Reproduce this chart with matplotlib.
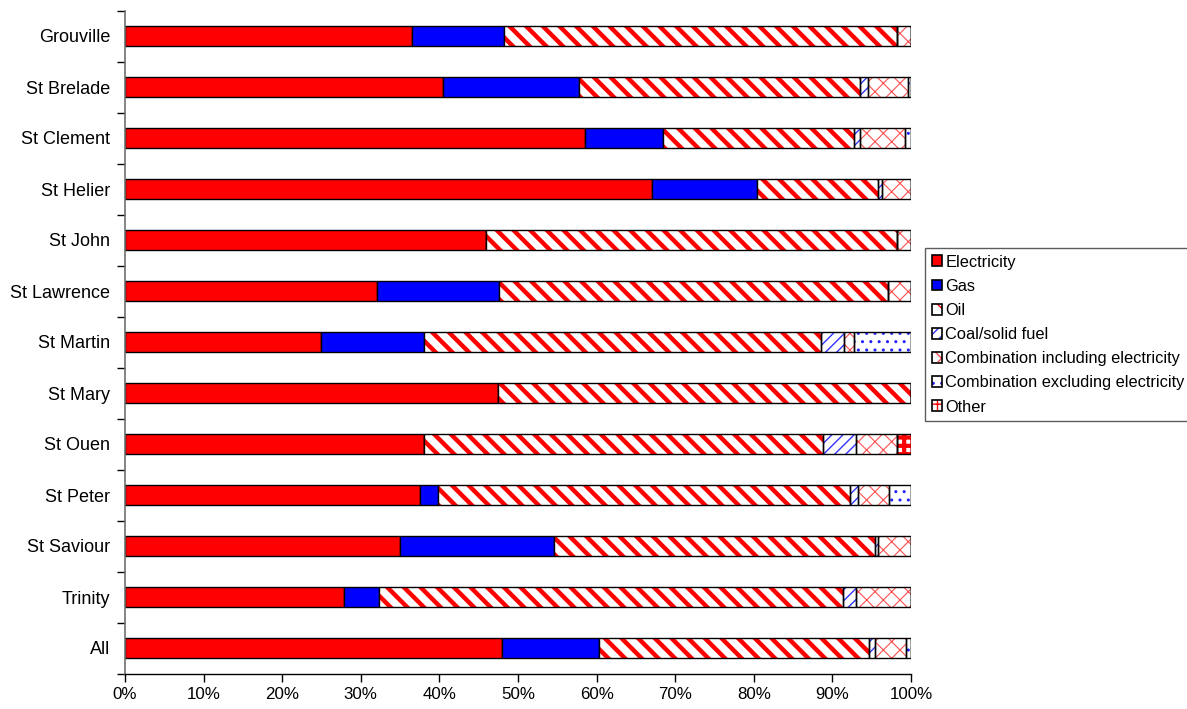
import matplotlib
matplotlib.use("Agg")
import matplotlib.pyplot as plt
from matplotlib.patches import Patch
from matplotlib.ticker import FixedLocator, PercentFormatter
import numpy as np

plt.rcParams['font.family'] = ['Liberation Sans', 'DejaVu Sans']

parishes = ["Grouville", "St Brelade", "St Clement", "St Helier", "St John",
            "St Lawrence", "St Martin", "St Mary", "St Ouen", "St Peter",
            "St Saviour", "Trinity", "All"]

# Share of households by main heating fuel (%)
electricity = [36.5, 40.4, 58.5, 67.0, 45.9, 32.0, 24.9, 47.5, 38.0, 37.5, 35.0, 27.9, 48.0]
gas         = [11.7, 17.3,  9.9, 13.4,  0.0, 15.6, 13.2,  0.0,  0.0,  2.3, 19.6,  4.4, 12.3]
oil         = [50.0, 35.8, 24.3, 15.4, 52.3, 49.5, 50.4, 52.5, 50.8, 52.4, 40.8, 59.1, 34.4]
coal        = [ 0.0,  1.0,  0.8,  0.5,  0.0,  0.0,  3.0,  0.0,  4.2,  1.0,  0.4,  1.6,  0.7]
comb_incl   = [ 1.8,  5.1,  5.7,  3.7,  1.8,  2.9,  1.2,  0.0,  5.2,  4.0,  4.2,  7.0,  4.0]
comb_excl   = [ 0.0,  0.4,  0.8,  0.0,  0.0,  0.0,  7.3,  0.0,  0.0,  2.8,  0.0,  0.0,  0.6]
other       = [ 0.0,  0.0,  0.0,  0.0,  0.0,  0.0,  0.0,  0.0,  1.8,  0.0,  0.0,  0.0,  0.0]

series_labels = ["Electricity", "Gas", "Oil", "Coal/solid fuel",
                 "Combination including electricity",
                 "Combination excluding electricity", "Other"]
series_values = [electricity, gas, oil, coal, comb_incl, comb_excl, other]

# fill style per series: (face, hatch, hatch colour, hatch linewidth)
styles = [
    ("#FF0000", None, None, 0),
    ("#0000FF", None, None, 0),
    ("white", "\\\\", "#FF0000", 3.2),
    ("white", "///", "#3333FF", 1.0),
    ("white", "xx", "#FF5050", 0.8),
    ("white", "..", "#2222FF", 1.0),
    ("white", "++", "#FF0000", 3.0),
]

fig = plt.figure(figsize=(11.87, 7.09), dpi=100)
ax = fig.add_axes([125 / 1187, 1 - 673.5 / 709, (911 - 125) / 1187, 663 / 709])

y = np.arange(len(parishes))
bar_h = 0.41
left = np.zeros(len(parishes))
handles = []
for vals, label, (face, hatch, hcol, hlw) in zip(series_values, series_labels, styles):
    vals = np.asarray(vals, dtype=float)
    if hatch is None:
        ax.barh(y, vals, left=left, height=bar_h, color=face,
                edgecolor="black", linewidth=1.0, zorder=2)
        handles.append(Patch(facecolor=face, edgecolor="black", linewidth=1.2))
    else:
        with plt.rc_context({'hatch.linewidth': hlw}):
            bars = ax.barh(y, vals, left=left, height=bar_h, color=face,
                           edgecolor=hcol, hatch=hatch, linewidth=0, zorder=2)
            fill = Patch(facecolor=face, edgecolor=hcol, hatch=hatch, linewidth=0)
        for p in list(bars) + [fill]:
            if hasattr(p, "set_hatch_linewidth"):
                p.set_hatch_linewidth(hlw)
        ax.barh(y, vals, left=left, height=bar_h, facecolor="none",
                edgecolor="black", linewidth=1.0, zorder=3)
        outline = Patch(facecolor="none", edgecolor="black", linewidth=1.2)
        handles.append((fill, outline))
    left += vals

ax.set_xlim(0, 100)
ax.set_ylim(len(parishes) - 0.5, -0.5)

ax.xaxis.set_major_locator(FixedLocator(np.arange(0, 101, 10)))
ax.xaxis.set_major_formatter(PercentFormatter(decimals=0))
ax.tick_params(axis="x", direction="out", length=6, width=1, color="black",
               labelsize=12.2, pad=4)

ax.set_yticks(y)
ax.set_yticklabels(parishes)
ax.yaxis.set_minor_locator(FixedLocator(np.arange(-0.5, len(parishes), 1.0)))
ax.tick_params(axis="y", which="major", length=0, labelsize=13, pad=10.5)
ax.tick_params(axis="y", which="minor", direction="out", length=6, width=1,
               color="black")

for s in ("top", "right"):
    ax.spines[s].set_visible(False)
ax.spines["left"].set_color("#707070")
ax.spines["left"].set_linewidth(1.2)
ax.spines["bottom"].set_color("black")
ax.spines["bottom"].set_linewidth(1.0)

leg = fig.legend(handles, series_labels, loc="upper left",
                 bbox_to_anchor=(925 / 1187, 1 - 248 / 709),
                 borderaxespad=0, frameon=True, fancybox=False,
                 fontsize=11.8, handlelength=0.65, handleheight=0.65,
                 handletextpad=0.2, labelspacing=0.56, borderpad=0.4)
leg.get_frame().set_edgecolor("#333333")
leg.get_frame().set_linewidth(1.0)

fig.savefig("out.png", dpi=100)
